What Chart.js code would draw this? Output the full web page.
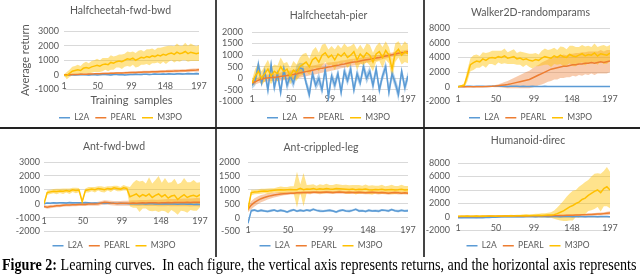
<!DOCTYPE html>
<html>
<head>
<meta charset="utf-8">
<script src="https://cdn.jsdelivr.net/npm/chart.js@4/dist/chart.umd.min.js"></script>
<style>
  html, body { margin: 0; padding: 0; background: #fff; }
  #fig { position: relative; width: 640px; height: 275px; overflow: hidden; background: #fff; }
  #fig canvas { position: absolute; }
  .vline { position: absolute; top: 0; width: 2px; height: 257px; background: #444; z-index: 2; }
  .hline { position: absolute; left: 0; top: 127px; width: 640px; height: 2px; background: #222; z-index: 2; }
  #caption { position: absolute; left: 2px; top: 255px; font-family: "Liberation Serif", serif; font-size: 16px;
             line-height: 19px; white-space: pre; color: #000; transform-origin: 0 0; z-index: 3; }
</style>
</head>
<body>
<div id="fig">
  <canvas id="c0" width="216" height="132" style="left:0px;top:0px"></canvas>
  <canvas id="c1" width="208" height="132" style="left:216px;top:0px"></canvas>
  <canvas id="c2" width="216" height="132" style="left:424px;top:0px"></canvas>
  <canvas id="c3" width="216" height="132" style="left:0px;top:128px"></canvas>
  <canvas id="c4" width="208" height="132" style="left:216px;top:128px"></canvas>
  <canvas id="c5" width="216" height="132" style="left:424px;top:128px"></canvas>
  <div class="vline" style="left:215px"></div>
  <div class="vline" style="left:423px"></div>
  <div class="hline"></div>
  <div id="caption"><b>Figure 2:</b> Learning curves.  In each figure, the vertical axis represents returns, and the horizontal axis represents</div>
</div>
<script>
/* ---- data ---- */
var seriesNames = ['L2A', 'PEARL', 'M3PO'];
var xTicks = [1, 50, 99, 148, 197];
var xs = [1, 5, 9, 13, 17, 21, 25, 29, 33, 37, 41, 45, 49, 53, 57, 61, 65, 69, 73, 77,
          81, 85, 89, 93, 97, 101, 105, 109, 113, 117, 121, 125, 129, 133, 137, 141, 145, 149, 153, 157,
          161, 165, 169, 173, 177, 181, 185, 189, 193, 197];

// Halfcheetah-fwd-bwd
var hcfbY = [-1000, 3000, 1000];
var hcfbL2A = [-50,-20,0,10,-10,0,20,10,0,-10, 10,20,0,10,30,20,10,0,20,30, 10,20,0,10,30,20,40,30,20,40, 50,30,40,60,50,40,60,50,70,60, 50,70,80,60,70,90,80,70,90,80];
var hcfbL2AErr = [30,40,40,50,40,40,50,40,40,50, 40,40,50,40,50,40,40,50,50,40, 40,50,40,40,50,40,50,40,50,40, 50,50,40,50,50,50,60,50,60,50, 60,50,60,60,50,60,60,50,60,60];
var hcfbPEARL = [0,5,10,20,25,30,40,45,50,60, 65,70,80,85,90,95,100,110,115,120, 125,135,140,150,155,160,170,175,180,190, 195,200,210,215,220,230,235,240,250,255, 260,270,275,285,290,300,310,320,330,345];
var hcfbPEARLErr = [20,30,30,40,40,40,50,50,50,50, 60,60,60,60,60,70,70,70,70,70, 70,70,80,80,80,80,80,80,80,90, 90,90,90,90,90,90,90,100,100,100, 100,100,100,100,100,100,110,110,110,110];
var hcfbM3PO = [0,-50,100,250,300,350,300,450,500,450, 550,600,650,600,700,750,700,850,800,900, 950,900,1000,1100,1050,1150,1000,1100,1200,1150, 1250,1200,1300,1250,1350,1300,1400,1350,1450,1500, 1400,1550,1450,1500,1600,1450,1550,1500,1450,1500];
var hcfbM3POErr = [50,250,250,300,300,350,300,350,400,350, 400,400,450,400,450,400,450,500,450,400, 450,500,450,500,500,450,500,550,500,450, 500,550,500,450,500,550,500,600,550,500, 550,600,550,500,600,550,600,550,500,550];

// Halfcheetah-pier
var hcpY = [-1000, 2000, 500];
var hcpL2A = [-300,-100,600,-200,300,-500,600,-400,200,-600, 400,-300,100,-200,300,450,400,-200,-700,200, -300,0,-500,400,-800,100,-300,200,-600,300, -100,400,-500,200,-200,500,0,300,-300,400, -500,100,500,-600,200,-200,-700,300,-400,100];
var hcpL2AErr = [150,220,260,200,240,280,210,250,190,270, 230,260,200,240,280,220,250,190,260,230, 210,270,240,200,290,230,250,210,260,240, 220,280,230,250,200,260,240,210,270,230, 250,200,260,280,230,240,290,220,250,200];
var hcpPEARL = [-200,-150,-80,-30,0,20,40,50,60,80, 100,120,150,170,200,230,260,290,320,350, 380,410,440,460,490,510,540,560,600,620, 650,680,700,720,750,780,800,820,850,880, 900,930,960,990,1020,1050,1080,1100,1120,1150];
var hcpPEARLErr = [100,120,130,140,150,150,160,160,170,170, 180,180,190,190,200,200,200,200,200,200, 200,200,200,190,190,180,180,170,170,160, 160,150,150,150,140,140,130,130,120,120, 110,110,100,100,100,100,90,90,90,90];
var hcpM3PO = [-200,100,300,0,200,400,100,300,200,500, 300,400,100,350,250,500,600,700,500,800, 900,700,1000,1100,900,1000,800,1050,950,1100, 900,1000,1150,800,1050,900,1100,1000,700,1050, 1150,900,1200,1000,400,1100,1250,1000,1150,1050];
var hcpM3POErr = [150,300,350,300,350,400,350,300,350,400, 350,300,350,400,350,400,450,400,350,400, 450,400,450,400,350,400,450,400,350,400, 450,400,350,450,400,350,400,450,400,350, 400,450,400,350,450,400,350,400,450,400];

// Walker2D-randomparams
var wkY = [-2000, 8000, 2000];
var wkL2A = [50,60,50,70,60,50,60,70,60,50, 60,70,80,60,70,60,50,60,70,60, 50,60,40,50,60,50,40,50,60,50, 40,50,40,30,40,50,40,30,40,50, 40,30,40,50,40,30,40,30,40,30];
var wkL2AErr = [30,40,30,40,40,30,40,30,40,40, 30,40,30,40,30,40,40,30,40,30, 40,30,40,30,40,40,30,40,30,40, 30,40,40,30,40,30,40,30,40,40, 30,40,30,40,30,40,30,40,30,40];
var wkPEARL = [0,0,0,0,0,0,10,10,20,30, 40,60,100,150,200,250,300,400,500,600, 700,800,900,1000,1200,1400,1600,1800,2000,2200, 2400,2500,2600,2700,2800,2800,2900,3000,3000,3100, 3100,3200,3200,3300,3200,3300,3400,3300,3400,3500];
var wkPEARLErr = [0,0,0,0,10,10,20,30,50,60, 80,100,150,200,300,400,500,600,700,800, 900,1000,1100,1200,1300,1400,1400,1500,1500,1500, 1600,1500,1600,1500,1600,1500,1600,1500,1600,1500, 1600,1500,1600,1500,1600,1500,1600,1500,1600,1500];
var wkM3PO = [0,100,200,1500,3000,3300,3500,3400,3800,3600, 3900,4000,3900,4100,4000,4200,3900,4000,4100,3800, 3900,3700,3800,3600,3500,3700,3600,3900,4100,4000, 3900,4200,4000,4300,4100,4000,4400,4200,4100,4300, 4500,4200,4400,4300,4600,4200,4500,4400,4300,4600];
var wkM3POErr = [50,100,300,800,900,1000,900,800,900,1000, 800,900,1000,800,900,1000,800,900,1000,800, 900,1000,800,900,1000,900,800,1000,1100,1000, 1200,1100,1000,1200,1300,1100,1200,1400,1300,1100, 1200,1300,1200,1100,1300,1200,1100,1300,1200,1100];

// Ant-fwd-bwd
var afbY = [-2000, 3000, 1000];
var afbL2A = [0,50,40,60,50,70,60,50,80,60, 70,60,70,80,60,40,50,30,40,20, 30,40,30,20,30,20,10,0,10,0, -10,0,-20,-10,0,-20,-30,-20,-10,-30, -20,-30,-40,-30,-20,-40,-30,-50,-40,-50];
var afbL2AErr = [60,50,40,60,50,40,60,50,50,60, 40,50,60,50,40,60,50,50,60,40, 40,50,40,50,40,40,50,40,40,50, 50,40,40,50,40,40,50,40,50,40, 40,50,40,40,50,40,50,40,40,50];
var afbPEARL = [-200,-250,-200,-180,-150,-150,-120,-100,-100,-80, -80,-60,-50,-50,-30,-20,-20,0,50,100, 80,50,30,20,30,40,30,40,50,40, 50,60,50,60,70,60,50,60,70,80, 70,80,90,80,90,100,90,100,110,100];
var afbPEARLErr = [100,120,120,110,110,110,100,100,100,100, 100,110,110,120,120,130,130,140,150,150, 150,160,160,170,170,180,180,190,200,200, 210,210,220,220,230,230,240,240,250,250, 260,260,270,270,280,280,290,290,300,300];
var afbM3PO = [0,800,850,900,880,920,900,950,900,1000, 950,980,150,950,1000,1050,1000,1100,1050,1000, 1100,1050,1150,1100,1050,1150,1100,500,600,700, 500,650,550,700,450,600,700,500,650,400, 550,600,300,500,650,450,550,600,500,650];
var afbM3POErr = [50,150,150,150,200,150,200,150,200,150, 200,150,100,150,200,150,200,150,200,200, 150,200,150,200,150,200,150,700,900,1000, 1100,1000,900,1200,1000,1100,1300,1000,1200,1100, 1000,1200,1100,1000,1200,1100,1000,1100,1000,900];

// Ant-crippled-leg
var aclY = [-500, 2000, 500];
var aclL2A = [-200,250,270,230,260,240,220,250,270,230, 260,240,200,250,280,230,260,240,270,250, 300,260,240,230,250,260,240,200,250,270, 240,230,260,300,240,250,220,260,240,250, 230,270,260,240,290,250,230,260,240,250];
var aclL2AErr = [80,50,40,40,50,40,40,50,40,40, 50,40,40,50,40,40,50,40,40,50, 40,40,50,40,40,50,40,40,50,40, 40,50,40,40,50,40,40,50,40,40, 50,40,40,50,40,40,50,40,40,50];
var aclPEARL = [300,450,550,620,680,720,760,790,810,830, 850,860,870,880,880,890,890,900,900,900, 910,910,900,910,920,910,900,910,920,910, 900,910,900,900,910,900,890,900,910,900, 890,900,890,880,890,900,890,880,890,880];
var aclPEARLErr = [100,150,150,140,130,120,110,100,90,80, 70,60,60,50,50,50,60,50,50,60, 50,50,60,50,50,60,50,50,60,50, 50,60,50,50,60,50,50,60,50,50, 60,50,50,60,50,50,60,50,50,60];
var aclM3PO = [300,900,920,930,950,960,950,970,980,990, 1000,990,1000,1010,1000,1000,1050,1000,1030,1020, 1050,1010,1040,1020,1050,1030,1020,1050,1040,1030, 1020,1010,1030,1000,1020,1010,1030,1000,990,1010, 1000,1020,990,1000,1010,990,1000,1020,990,1000];
var aclM3POErr = [100,100,80,80,90,80,100,90,80,100, 120,110,100,120,130,650,150,600,140,160, 150,140,160,150,170,140,150,160,150,140, 160,150,140,170,150,140,160,150,170,140, 150,160,140,150,170,150,140,160,150,140];

// Humanoid-direc
var humY = [-2000, 8000, 2000];
var humL2A = [-100,-120,-100,-110,-90,-100,-120,-80,-100,-90, -60,-50,-20,0,20,30,40,50,60,50, 60,50,60,70,60,50,60,70,60,50, 60,70,60,50,60,70,60,50,60,70, 60,50,60,70,60,50,60,70,60,50];
var humL2AErr = [40,50,40,50,40,40,50,40,50,40, 40,50,40,40,50,40,50,40,40,50, 40,40,50,40,50,40,40,50,40,40, 50,40,50,40,40,50,40,40,50,40, 50,40,40,50,40,40,50,40,50,40];
var humPEARL = [50,60,60,70,70,80,80,90,90,100, 100,110,110,120,120,130,130,140,140,150, 150,160,160,170,170,180,180,190,190,200, 200,210,220,230,240,250,260,270,280,300, 320,340,360,380,400,430,460,500,550,600];
var humPEARLErr = [30,30,30,30,30,30,30,30,40,40, 40,40,40,40,40,40,50,50,50,50, 50,50,50,60,60,60,60,60,70,70, 70,80,80,90,90,100,100,110,120,130, 140,150,160,170,180,190,200,220,240,260];
var humM3PO = [100,120,110,130,100,120,150,100,130,120, 150,140,120,150,160,140,150,170,160,180, 200,190,210,200,220,230,250,240,260,280, 300,350,500,700,900,1200,1500,1700,2000,2200, 2600,2800,3200,3500,3800,4000,3600,4200,4500,4000];
var humM3POErr = [100,100,100,100,100,100,100,100,100,100, 100,100,100,100,100,100,100,150,150,150, 150,200,200,200,200,250,250,300,300,350, 400,600,900,1200,1500,1800,2000,2200,2000,2300, 2200,2400,2300,2500,2600,2500,2800,2600,2900,2700];

var panels = [
  { title: 'Halfcheetah-fwd-bwd',   y: hcfbY, mean: [hcfbL2A, hcfbPEARL, hcfbM3PO], err: [hcfbL2AErr, hcfbPEARLErr, hcfbM3POErr] },
  { title: 'Halfcheetah-pier',      y: hcpY,  mean: [hcpL2A, hcpPEARL, hcpM3PO],    err: [hcpL2AErr, hcpPEARLErr, hcpM3POErr] },
  { title: 'Walker2D-randomparams', y: wkY,   mean: [wkL2A, wkPEARL, wkM3PO],       err: [wkL2AErr, wkPEARLErr, wkM3POErr] },
  { title: 'Ant-fwd-bwd',           y: afbY,  mean: [afbL2A, afbPEARL, afbM3PO],    err: [afbL2AErr, afbPEARLErr, afbM3POErr] },
  { title: 'Ant-crippled-leg',      y: aclY,  mean: [aclL2A, aclPEARL, aclM3PO],    err: [aclL2AErr, aclPEARLErr, aclM3POErr] },
  { title: 'Humanoid-direc',        y: humY,  mean: [humL2A, humPEARL, humM3PO],    err: [humL2AErr, humPEARLErr, humM3POErr] }
];

/* ---- look ---- */
var lineColors = ['#5b9bd5', '#ed7d31', '#ffc000'];
var bandColors = ['rgba(91,155,213,0.45)', 'rgba(237,125,49,0.40)', 'rgba(255,192,0,0.45)'];
var TXT = '#595959';

// per-panel box geometry (px)
var boxes = [
  { padL: 42, padR: 17, yW: 22, yPad: 5, tTop: 4.7,  tBot: 13.7, xH: 18, xPad: -8.4, axisTitles: true },
  { padL: 33, padR: 16, yW: 3,  yPad: 9, tTop: 9.7,  tBot: 9.7,  xH: 6,  xPad: -7.4 },
  { padL: 27, padR: 30, yW: 7,  yPad: 8, tTop: 6.7,  tBot: 8.7,  xH: 6,  xPad: -7.4 },
  { padL: 28, padR: 16, yW: 16, yPad: 4, tTop: 12.7, tBot: 8.7,  xH: 4,  xPad: -15.4 },
  { padL: 18, padR: 16, yW: 14, yPad: 8, tTop: 13.7, tBot: 7.7,  xH: 4,  xPad: -6.4 },
  { padL: 22, padR: 30, yW: 12, yPad: 8, tTop: 6.7,  tBot: 15.7, xH: 5,  xPad: -7.4 }
];

Chart.defaults.font.family = 'Lato, "Liberation Sans", sans-serif';
Chart.defaults.color = TXT;

// tick labels sit partly outside the narrow axis boxes, so don't clip them
function noClip() { return undefined; }

function pts(mean, err, sign) {
  return xs.map(function (x, i) { return { x: x, y: mean[i] + sign * err[i] }; });
}

function buildDatasets(p) {
  var bands = [], lines = [];
  seriesNames.forEach(function (name, s) {
    bands.push({ label: '', data: pts(p.mean[s], p.err[s], 1), borderWidth: 0, borderColor: 'transparent',
                 pointRadius: 0, fill: false, order: 6 - s });
    bands.push({ label: '', data: pts(p.mean[s], p.err[s], -1), borderWidth: 0, borderColor: 'transparent',
                 pointRadius: 0, fill: '-1', backgroundColor: bandColors[s], order: 6 - s });
    lines.push({ label: name, data: pts(p.mean[s], p.err[s], 0), borderColor: lineColors[s],
                 backgroundColor: lineColors[s], borderWidth: 1.5, pointRadius: 0, fill: false, order: 3 - s });
  });
  return bands.concat(lines);
}

panels.forEach(function (p, k) {
  var b = boxes[k];
  new Chart(document.getElementById('c' + k), {
    type: 'line',
    data: { datasets: buildDatasets(p) },
    options: {
      responsive: false,
      animation: false,
      events: [],
      layout: { padding: { left: b.padL, right: b.padR, top: 0, bottom: 0 } },
      plugins: {
        title: { display: true, text: p.title, color: TXT, font: { size: 10.5, weight: 'normal' },
                 padding: { top: b.tTop, bottom: b.tBot } },
        legend: {
          position: 'bottom',
          labels: {
            usePointStyle: true, pointStyle: 'line', pointStyleWidth: 11, padding: 6,
            font: { size: 8.5 }, color: TXT,
            filter: function (item) { return item.text !== ''; },
            sort: function (a, c) { return a.datasetIndex - c.datasetIndex; }
          }
        },
        tooltip: { enabled: false }
      },
      scales: {
        x: {
          type: 'linear', min: 1, max: 197,
          grid: { display: false, drawTicks: false },
          border: { display: false },
          afterBuildTicks: function (s) { s.ticks = xTicks.map(function (v) { return { value: v }; }); },
          afterFit: function (s) { s.height = b.xH; s._computeLabelArea = noClip; },
          ticks: { padding: b.xPad, maxRotation: 0, autoSkip: false, font: { size: 9 }, color: TXT },
          title: { display: !!b.axisTitles, text: 'Training  samples', color: TXT, font: { size: 11 },
                   padding: { top: 0, bottom: 0.4 } }
        },
        y: {
          min: p.y[0], max: p.y[1],
          grid: { color: '#d9d9d9', lineWidth: 1, drawTicks: false },
          border: { display: false },
          afterFit: function (s) { s.width = b.yW; s._computeLabelArea = noClip; },
          ticks: { stepSize: p.y[2], autoSkip: false, padding: b.yPad, font: { size: 9 }, color: TXT,
                   callback: function (v) { return String(v); } },
          title: { display: !!b.axisTitles, text: 'Average return', color: TXT, font: { size: 11 },
                   padding: { top: -23.6, bottom: 0 } }
        }
      }
    }
  });
});

// stretch caption to the figure width
var cap = document.getElementById('caption');
cap.style.transform = 'scaleX(' + (634 / cap.scrollWidth) + ')';
</script>
</body>
</html>
